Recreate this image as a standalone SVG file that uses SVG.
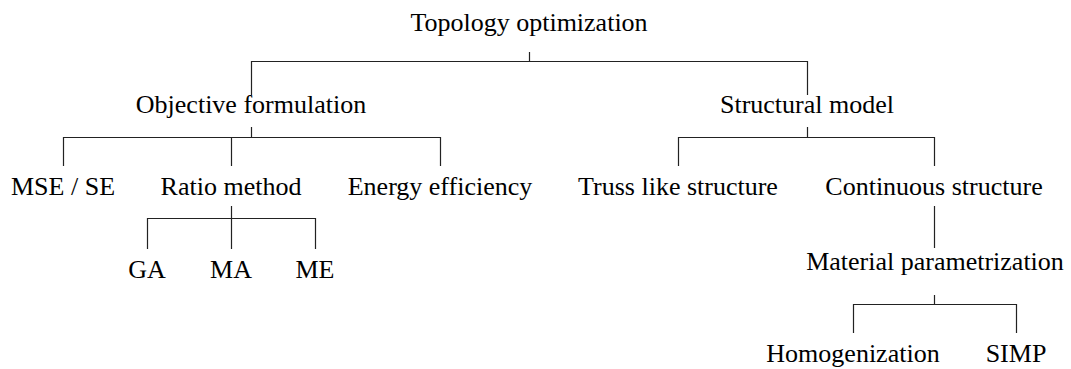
<svg xmlns="http://www.w3.org/2000/svg" width="1071" height="369" viewBox="0 0 1071 369">
<style>
text{font-family:"Liberation Serif","Times New Roman",serif;font-size:26px;fill:#000;text-anchor:middle}
.c path{fill:none;stroke:#222;stroke-width:1.2}
</style>
<rect width="1071" height="369" fill="#fff"/>
<g class="c" id="connectors">
<path d="M529.5 52V61.5M251.5 61.5H807.5M251.5 61V95M807.5 61V95"/>
<path d="M251.5 127V137.5M63.5 137.5H440.5M63.5 137V166M231.5 137V166M440.5 137V166"/>
<path d="M231.5 206V218.5M147.5 218.5H315.5M147.5 218V249M231.5 218V249M315.5 218V249"/>
<path d="M807.5 127V137.5M678.5 137.5H934.5M678.5 137V166M934.5 137V166"/>
<path d="M934.5 206V248"/>
<path d="M934.5 295V304.5M853.5 304.5H1016.5M853.5 304V333M1016.5 304V333"/>
</g>
<g id="n-topology"><text x="529" y="31">Topology optimization</text></g>
<g id="n-objective"><text x="251" y="113">Objective formulation</text></g>
<g id="n-structural"><text x="807" y="113">Structural model</text></g>
<g id="n-mse"><text x="63" y="195">MSE / SE</text></g>
<g id="n-ratio"><text x="231" y="195">Ratio method</text></g>
<g id="n-energy"><text x="440" y="195">Energy efficiency</text></g>
<g id="n-truss"><text x="678" y="195">Truss like structure</text></g>
<g id="n-continuous"><text x="934" y="195">Continuous structure</text></g>
<g id="n-ga"><text x="147" y="278">GA</text></g>
<g id="n-ma"><text x="231" y="278">MA</text></g>
<g id="n-me"><text x="315" y="278">ME</text></g>
<g id="n-material"><text x="935" y="270">Material parametrization</text></g>
<g id="n-homog"><text x="853" y="362">Homogenization</text></g>
<g id="n-simp"><text x="1016" y="362">SIMP</text></g>
</svg>
